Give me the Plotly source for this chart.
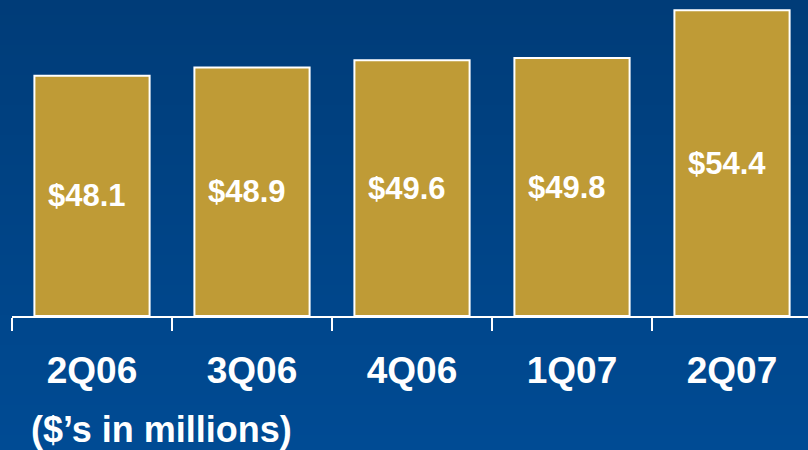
import plotly.graph_objects as go

# Quarterly revenue, $ millions
quarters = ["2Q06", "3Q06", "4Q06", "1Q07", "2Q07"]
revenue = [48.1, 48.9, 49.6, 49.8, 54.4]
value_labels = ["$48.1", "$48.9", "$49.6", "$49.8", "$54.4"]
unit_note = "($\u2019s in millions)"
axis_floor = 25.0      # value axis starts here (bars rise from this level)

W, H = 808, 450
AXIS_PX = 316          # pixel row of the category axis
FONT = "Liberation Sans, Arial, sans-serif"

fig = go.Figure()

fig.add_trace(go.Bar(
    x=quarters,
    y=[v - axis_floor for v in revenue],
    base=axis_floor,
    marker=dict(color="#BF9B36", line=dict(color="white", width=2)),
    hoverinfo="skip",
))

# Value labels centred vertically in each bar, nudged slightly left
annotations = []
for q, v, lab in zip(quarters, revenue, value_labels):
    annotations.append(dict(
        x=q, y=(axis_floor + v) / 2, xref="x", yref="y",
        text=lab, showarrow=False, xanchor="center", yanchor="middle",
        xshift=-5,
        font=dict(family=FONT, size=31, color="white", weight="bold"),
    ))

annotations.append(dict(
    text=unit_note, xref="paper", yref="paper",
    x=(161.5 - 12) / (W - 12), y=(AXIS_PX - 429) / AXIS_PX,
    xanchor="center", yanchor="middle", showarrow=False,
    font=dict(family=FONT, size=36, color="white", weight="bold"),
))

# Vertical blue gradient behind everything, built from thin horizontal bands
top_rgb = (0, 60, 120)
bot_rgb = (0, 75, 148)
n_bands = 90
shapes = []
for i in range(n_bands):
    t0 = i / n_bands
    t1 = (i + 1) / n_bands
    tm = (t0 + t1) / 2
    r = round(top_rgb[0] + (bot_rgb[0] - top_rgb[0]) * tm)
    g = round(top_rgb[1] + (bot_rgb[1] - top_rgb[1]) * tm)
    b = round(top_rgb[2] + (bot_rgb[2] - top_rgb[2]) * tm)
    py0 = t0 * H
    py1 = t1 * H + 0.6
    shapes.append(dict(
        type="rect", xref="paper", yref="paper", layer="below",
        x0=-0.1, x1=1.1,
        y0=(AXIS_PX - py1) / AXIS_PX, y1=(AXIS_PX - py0) / AXIS_PX,
        line=dict(width=0), fillcolor=f"rgb({r},{g},{b})",
    ))

fig.update_layout(
    width=W, height=H,
    margin=dict(l=12, r=0, t=0, b=H - AXIS_PX),
    paper_bgcolor="#004080",
    plot_bgcolor="rgba(0,0,0,0)",
    bargap=0.28,
    showlegend=False,
    shapes=shapes,
    annotations=annotations,
    font=dict(family=FONT, color="white"),
    xaxis=dict(
        type="category",
        range=[-0.5, -0.5 + (W - 12) / 160],
        tickson="boundaries",
        ticks="outside", ticklen=13, tickwidth=2, tickcolor="white",
        showline=True, linecolor="white", linewidth=2,
        showgrid=False, zeroline=False,
        tickfont=dict(family=FONT, size=37, color="white", weight="bold"),
        ticklabelstandoff=21,
    ),
    yaxis=dict(
        range=[axis_floor, axis_floor + AXIS_PX / 10.4],
        visible=False, showgrid=False, zeroline=False,
    ),
)

fig.write_html("out.html")
